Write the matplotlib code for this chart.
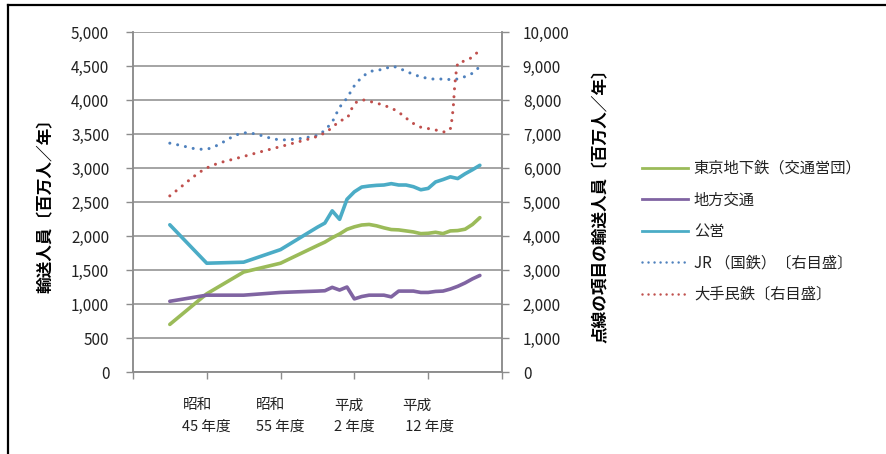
import matplotlib
matplotlib.use("Agg")
import matplotlib.pyplot as plt
import numpy as np
from matplotlib.path import Path
from matplotlib.patches import PathPatch
from matplotlib.lines import Line2D
from matplotlib.ticker import FuncFormatter

plt.rcParams["font.family"] = ["Noto Sans CJK JP", "DejaVu Sans"]

# fiscal years (5-year steps to 1985, then annual)
years = [1965, 1970, 1975, 1980, 1985, 1986, 1987, 1988, 1989, 1990,
         1991, 1992, 1993, 1994, 1995, 1996, 1997, 1998, 1999, 2000,
         2001, 2002, 2003, 2004, 2005, 2006, 2007]

# left axis series (million passengers / year)
tokyo_metro = [700, 1150, 1470, 1600, 1860, 1910, 1975, 2030, 2098, 2135,
               2162, 2170, 2150, 2120, 2095, 2090, 2075, 2060, 2035, 2040,
               2055, 2035, 2075, 2080, 2100, 2170, 2270]
local_transit = [1040, 1130, 1130, 1170, 1190, 1195, 1245, 1205, 1250, 1075,
                 1110, 1130, 1130, 1130, 1105, 1190, 1190, 1190, 1170, 1170,
                 1185, 1190, 1220, 1260, 1310, 1370, 1420]
public_op = [2165, 1600, 1615, 1800, 2130, 2190, 2370, 2245, 2540, 2650,
             2720, 2735, 2745, 2750, 2770, 2750, 2750, 2725, 2680, 2700,
             2795, 2830, 2870, 2845, 2915, 2975, 3040]

# right axis series (dotted)
jr = [6730, 6560, 7030, 6830, 6960, 7120, 7360, 7780, 8060, 8420,
      8660, 8820, 8880, 8900, 8990, 8940, 8840, 8760, 8680, 8640,
      8610, 8620, 8600, 8620, 8690, 8790, 8990]
major_private = [5180, 6000, 6340, 6630, 6930, 7040, 7190, 7380, 7470, 7880,
                 8000, 7960, 7910, 7840, 7760, 7640, 7470, 7310, 7200, 7160,
                 7120, 7060, 7150, 9080, 9150, 9270, 9480]

tick_years = [1960, 1970, 1980, 1990, 2000, 2010]
tick_labels = ["", "昭和\n45 年度", "昭和\n55 年度", "平成\n2 年度", "平成\n 12 年度", ""]

labels = ["東京地下鉄（交通営団）", "地方交通", "公営", "JR （国鉄）〔右目盛〕", "大手民鉄〔右目盛〕"]
colors = ["#9BBB59", "#8064A2", "#4BACC6", "#4F81BD", "#C0504D"]

grid_c = "#8C8C8C"
text_c = "#222222"
dot_style = (0, (0.01, 2.6))


def smooth_path(ax, xs, ys):
    """Bezier path through the points, spline tangents scaled by segment length."""
    pts = ax.transData.transform(np.column_stack([xs, ys]))
    n = len(pts)
    verts = [pts[0]]
    codes = [Path.MOVETO]
    for i in range(n - 1):
        p0 = pts[i - 1] if i > 0 else pts[i]
        p1, p2 = pts[i], pts[i + 1]
        p3 = pts[i + 2] if i + 2 < n else pts[i + 1]
        d01 = np.hypot(*(p1 - p0))
        d12 = np.hypot(*(p2 - p1))
        d23 = np.hypot(*(p3 - p2))
        t1 = (p2 - p0) / (d01 + d12)
        t2 = (p3 - p1) / (d12 + d23)
        verts += [p1 + t1 * d12 / 3, p2 - t2 * d12 / 3, p2]
        codes += [Path.CURVE4] * 3
    verts = ax.transData.inverted().transform(np.array(verts))
    return Path(verts, codes)


fig = plt.figure(figsize=(8.86, 4.54), dpi=100)
ax = fig.add_axes([0.150, 0.1806, 0.4166, 0.7489])
ax2 = ax.twinx()

ax.set_xlim(1960, 2010)
ax.set_ylim(0, 5000)
ax2.set_ylim(0, 10000)

ax.set_yticks(np.arange(0, 5001, 500))
ax2.set_yticks(np.arange(0, 10001, 1000))
fmt = FuncFormatter(lambda v, p: f"{int(v):,}")
ax.yaxis.set_major_formatter(fmt)
ax2.yaxis.set_major_formatter(fmt)

ax.grid(axis="y", color=grid_c, lw=1.1)
ax.set_axisbelow(True)

for a in (ax, ax2):
    for s in a.spines.values():
        s.set_color(grid_c)
        s.set_linewidth(1.1)
    a.spines["top"].set_visible(False)

ax.set_xticks(tick_years)
ax.set_xticklabels(tick_labels, fontsize=10.5, multialignment="left",
                   linespacing=1.7, color=text_c)
ax.tick_params(axis="x", length=5, width=1, color=grid_c, pad=14)
ax.tick_params(axis="y", length=5, width=1, color=grid_c, pad=12,
               labelsize=11, labelcolor=text_c)
ax2.tick_params(axis="y", length=5, width=1, color=grid_c, pad=10,
                labelsize=11, labelcolor=text_c)

solid = [tokyo_metro, local_transit, public_op]
for ys, c in zip(solid, colors[:3]):
    ax.plot(years, ys, color=c, lw=2.6, solid_capstyle="round",
            solid_joinstyle="round", zorder=3)

dotted = [jr, major_private]
for ys, c in zip(dotted, colors[3:]):
    patch = PathPatch(smooth_path(ax2, years, ys), fill=False, edgecolor=c,
                      lw=2.2, linestyle=dot_style, capstyle="round",
                      zorder=3)
    ax2.add_patch(patch)

ax.set_ylabel("輸送人員〔百万人／年〕", fontsize=12, fontweight="bold",
              color="black", labelpad=12)
ax2.set_ylabel("点線の項目の輸送人員〔百万人／年〕", fontsize=12,
               fontweight="bold", color="black", rotation=90, labelpad=16)

handles = [Line2D([], [], color=c, lw=2.0) for c in colors[:3]]
handles += [Line2D([], [], color=c, lw=1.8, linestyle=(0, (0.01, 2.4)),
                   dash_capstyle="round") for c in colors[3:]]
fig.legend(handles, labels, loc="upper left", bbox_to_anchor=(0.709, 0.678),
           frameon=False, fontsize=11, handlelength=3.0, handletextpad=0.4,
           labelspacing=0.95, labelcolor=text_c)

# outer frame (top and left edges)
fig.add_artist(Line2D([8 / 886, 1.0], [1 - 5 / 454, 1 - 5 / 454],
                      transform=fig.transFigure, color="black", lw=1.6))
fig.add_artist(Line2D([8 / 886, 8 / 886], [0.0, 1 - 5 / 454],
                      transform=fig.transFigure, color="black", lw=1.6))

fig.savefig("out.png", dpi=100)
